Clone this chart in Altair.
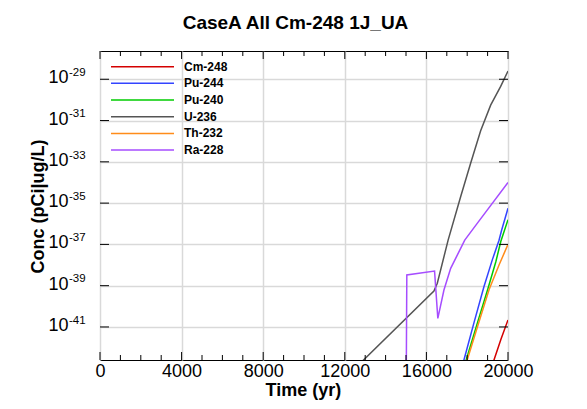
import altair as alt
import pandas as pd

FONT = "Liberation Sans, Arial, Helvetica, sans-serif"
W, H = 408, 309

title_text = "CaseA All Cm-248 1J_UA"
x_title = "Time (yr)"
y_title = "Conc (pCi|ug/L)"

series = ["Cm-248", "Pu-244", "Pu-240", "U-236", "Th-232", "Ra-228"]
colors = ["#d40000", "#3344ff", "#00cc00", "#555555", "#ff8c1a", "#a64dff"]

# values (time in years, concentration)
cm248_time = [19200, 19313, 19650, 20000]
cm248_conc = [1.0e-43, 2.5e-43, 2.5e-42, 2.2e-41]

pu244_time = [17700, 17840, 18330, 18820, 19230, 19560, 19690, 20000]
pu244_conc = [5.0e-44, 2.5e-43, 1.58e-41, 8.9e-40, 1.78e-38, 1.58e-37, 5.0e-37, 5.6e-36]

pu240_time = [17800, 17950, 18500, 19000, 19400, 19650, 20000]
pu240_conc = [5.0e-44, 2.5e-43, 1.58e-41, 6.3e-40, 1.41e-38, 1.41e-37, 1.58e-36]

u236_time = [12000, 12918, 16368, 16535, 17065, 17678, 18168, 18659, 19150, 19641, 20000]
u236_conc = [3.16e-44, 2.5e-43, 5.5e-40, 1.32e-39, 1.62e-37, 2.04e-35, 8.5e-34,
             3.2e-32, 5.6e-31, 4.5e-30, 2.5e-29]

th232_time = [17900, 18000, 18500, 19070, 19560, 20000]
th232_conc = [6.3e-44, 2.5e-43, 1.0e-41, 6.3e-40, 1.0e-38, 1.0e-37]

ra228_time = [15010, 15040, 16400, 16560, 16860, 17190, 17520, 17880, 18500, 20000]
ra228_conc = [1.0e-44, 3.3e-39, 5.1e-39, 2.6e-41, 6.2e-40, 6.9e-39, 3.1e-38,
              1.62e-37, 1.07e-36, 1.0e-34]

x_label_values = [0, 4000, 8000, 12000, 16000, 20000]
x_minor_ticks = [1000, 2000, 3000, 5000, 6000, 7000, 9000, 10000, 11000,
                 13000, 14000, 15000, 17000, 18000, 19000]
y_tick_values = [1e-29, 1e-31, 1e-33, 1e-35, 1e-37, 1e-39, 1e-41]
y_tick_exponents = ["-29", "-31", "-33", "-35", "-37", "-39", "-41"]

frames = []
for name, t, c in [
    ("Cm-248", cm248_time, cm248_conc),
    ("Pu-244", pu244_time, pu244_conc),
    ("Pu-240", pu240_time, pu240_conc),
    ("U-236", u236_time, u236_conc),
    ("Th-232", th232_time, th232_conc),
    ("Ra-228", ra228_time, ra228_conc),
]:
    frames.append(pd.DataFrame({"series": name, "time": t, "conc": c}))
df = pd.concat(frames, ignore_index=True)

x_scale = alt.Scale(domain=[0, 20000], nice=False, zero=False)
y_scale = alt.Scale(type="log", domain=[2.51e-43, 2.34e-28], nice=False)
color_scale = alt.Scale(domain=series, range=colors)

x_axis = alt.Axis(values=x_label_values, grid=True, ticks=False, tickSize=0,
                  domain=False, labelFontSize=18, labelPadding=2,
                  labelFlush=False, labelOverlap=False, format="d", title=None)
y_axis = alt.Axis(values=y_tick_values, grid=True, labels=False, ticks=False,
                  tickSize=0, domain=False, title=None)

lines = alt.Chart(df).mark_line(clip=True, strokeWidth=1.5).encode(
    x=alt.X("time:Q", scale=x_scale, axis=x_axis),
    y=alt.Y("conc:Q", scale=y_scale, axis=y_axis),
    color=alt.Color("series:N", scale=color_scale, legend=None),
    detail="series:N",
)

# inward tick marks
xmaj = pd.DataFrame({"time": x_label_values})
xmin = pd.DataFrame({"time": x_minor_ticks})
ytk = pd.DataFrame({"conc": y_tick_values, "e": y_tick_exponents})

tick_layers = []
for d, ln in [(xmaj, 8), (xmin, 5)]:
    tick_layers.append(alt.Chart(d).mark_rule(color="black", strokeWidth=1).encode(
        x=alt.X("time:Q", scale=x_scale, axis=x_axis), y=alt.value(H), y2=alt.value(H - ln)))
    tick_layers.append(alt.Chart(d).mark_rule(color="black", strokeWidth=1).encode(
        x=alt.X("time:Q", scale=x_scale, axis=x_axis), y=alt.value(0), y2=alt.value(ln)))
tick_layers.append(alt.Chart(ytk).mark_rule(color="black", strokeWidth=1).encode(
    y=alt.Y("conc:Q", scale=y_scale, axis=y_axis), x=alt.value(0), x2=alt.value(9)))
tick_layers.append(alt.Chart(ytk).mark_rule(color="black", strokeWidth=1).encode(
    y=alt.Y("conc:Q", scale=y_scale, axis=y_axis), x=alt.value(W - 9), x2=alt.value(W)))

# y tick labels: "10" with superscript exponent
ten = alt.Chart(ytk).mark_text(align="right", baseline="alphabetic", fontSize=18,
                               font=FONT, dy=4, color="black").encode(
    y=alt.Y("conc:Q", scale=y_scale, axis=y_axis), x=alt.value(-31.5), text=alt.value("10"))
expo = alt.Chart(ytk).mark_text(align="left", baseline="alphabetic", fontSize=11.5,
                                font=FONT, dy=-3.3, color="black").encode(
    y=alt.Y("conc:Q", scale=y_scale, axis=y_axis), x=alt.value(-31), text="e:N")

# legend (manual, inside plot)
legend_layers = []
one = pd.DataFrame({"k": [0]})
for i, (name, col) in enumerate(zip(series, colors)):
    ly = 15.7 + 16.67 * i
    legend_layers.append(alt.Chart(one).mark_rule(strokeWidth=1.5, color=col).encode(
        x=alt.value(11), x2=alt.value(74), y=alt.value(ly)))
    legend_layers.append(alt.Chart(one).mark_text(
        align="left", baseline="middle", fontSize=12, fontWeight="bold", font=FONT,
        color="black").encode(x=alt.value(84), y=alt.value(ly), text=alt.value(name)))

# chart title and axis titles as text
title_mark = alt.Chart(one).mark_text(
    align="center", baseline="alphabetic", fontSize=19, fontWeight="bold", font=FONT,
    color="black").encode(x=alt.value(W / 2 - 8.5), y=alt.value(-21.7),
                          text=alt.value(title_text))
xtitle_mark = alt.Chart(one).mark_text(
    align="center", baseline="alphabetic", fontSize=18, fontWeight="bold", font=FONT,
    color="black").encode(x=alt.value(W / 2 - 0.6), y=alt.value(H + 36),
                          text=alt.value(x_title))
ytitle_mark = alt.Chart(one).mark_text(
    align="center", baseline="middle", fontSize=18, fontWeight="bold", font=FONT,
    angle=270, color="black").encode(x=alt.value(-61.5), y=alt.value(H / 2 + 1),
                                     text=alt.value(y_title))

chart = alt.layer(
    lines, *tick_layers, ten, expo, *legend_layers, title_mark, xtitle_mark, ytitle_mark
).properties(
    width=W, height=H,
    autosize=alt.AutoSizeParams(type="none"),
    padding={"left": 92, "top": 43, "right": 71, "bottom": 40},
).configure_view(
    stroke="black", strokeWidth=1
).configure_axis(
    gridColor="#d9d9d9", gridWidth=1.5, labelFont=FONT, titleFont=FONT,
    labelColor="black", titleColor="black"
)

chart.save("out.html", embed_options={"renderer": "svg", "actions": False})
